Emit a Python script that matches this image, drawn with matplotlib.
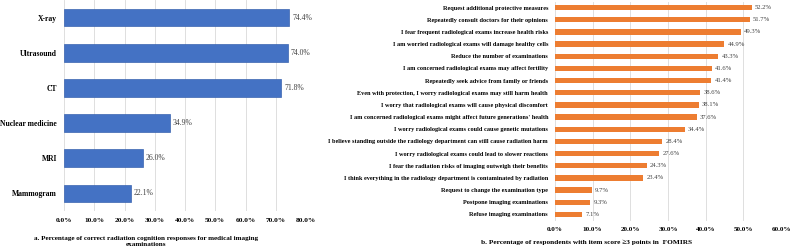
import matplotlib
matplotlib.use('Agg')
import matplotlib.pyplot as plt
import numpy as np

plt.rcParams['font.family'] = ['Liberation Serif', 'DejaVu Serif']

# panel a
exams = ['X-ray', 'Ultrasound', 'CT', 'Nuclear medicine', 'MRI', 'Mammogram']
exam_pct = [74.4, 74.0, 71.8, 34.9, 26.0, 22.1]
a_ticks = [0, 10, 20, 30, 40, 50, 60, 70, 80]

# panel b
items = [
    'Request additional protective measures',
    'Repeatedly consult doctors for their opinions',
    'I fear frequent radiological exams increase health risks',
    'I am worried radiological exams will damage healthy cells',
    'Reduce the number of examinations',
    'I am concerned radiological exams may affect fertility',
    'Repeatedly seek advice from family or friends',
    'Even with protection, I worry radiological exams may still harm health',
    'I worry that radiological exams will cause physical discomfort',
    "I am concerned radiological exams might affect future generations' health",
    'I worry radiological exams could cause genetic mutations',
    'I believe standing outside the radiology department can still cause radiation harm',
    'I worry radiological exams could lead to slower reactions',
    'I fear the radiation risks of imaging outweigh their benefits',
    'I think everything in the radiology department is contaminated by radiation',
    'Request to change the examination type',
    'Postpone imaging examinations',
    'Refuse imaging examinations',
]
item_pct = [52.2, 51.7, 49.3, 44.9, 43.3, 41.6, 41.4, 38.6, 38.1, 37.6,
            34.4, 28.4, 27.6, 24.3, 23.4, 9.7, 9.3, 7.1]
b_ticks = [0, 10, 20, 30, 40, 50, 60]

fig = plt.figure(figsize=(7.9, 2.48), dpi=100)
grid_c = '#d9d9d9'
val_c = '#404040'

ax1 = fig.add_axes([64/790, 1-211/248, (306-64)/790, 211/248])
y1 = np.arange(len(exams))
ax1.barh(y1, exam_pct, height=0.5, color='#4472c4', edgecolor='#3a64b0', linewidth=0.5, zorder=2)
ax1.set_ylim(len(exams)-0.5, -0.5)
ax1.set_xlim(0, 80)
ax1.set_xticks(a_ticks)
ax1.set_xticklabels(['%.1f%%' % t for t in a_ticks], fontsize=5.3, fontweight='bold')
ax1.set_yticks(y1)
ax1.set_yticklabels(exams, fontsize=5.5, fontweight='bold')
ax1.grid(axis='x', color=grid_c, linewidth=0.6, zorder=0)
ax1.tick_params(length=0, pad=5)
for s in ax1.spines.values():
    s.set_visible(False)
for i, v in enumerate(exam_pct):
    ax1.text(v + 1.0, i, '%.1f%%' % v, va='center', ha='left', fontsize=5.5, color=val_c)
fig.text(146/790, 1-241.5/248, 'a. Percentage of correct radiation cognition responses for medical imaging\nexaminations',
         ha='center', va='center', fontsize=5.1, fontweight='bold', linespacing=1.25)

ax2 = fig.add_axes([555/790, 1-220.5/248, (781-555)/790, 219/248])
y2 = np.arange(len(items))
ax2.barh(y2, item_pct, height=0.45, color='#ed7d31', zorder=2)
ax2.set_ylim(len(items)-0.5, -0.5)
ax2.set_xlim(0, 60)
ax2.set_xticks(b_ticks)
ax2.set_xticklabels(['%.1f%%' % t for t in b_ticks], fontsize=5.1, fontweight='bold')
ax2.set_yticks(y2)
ax2.set_yticklabels(items, fontsize=4.5, fontweight='bold')
ax2.grid(axis='x', color=grid_c, linewidth=0.6, zorder=0)
ax2.tick_params(length=0, pad=5)
for s in ax2.spines.values():
    s.set_visible(False)
for i, v in enumerate(item_pct):
    ax2.text(v + 0.9, i, '%.1f%%' % v, va='center', ha='left', fontsize=4.8, color=val_c)
fig.text(587/790, 1-242/248, 'b. Percentage of respondents with item score \u22653 points in  FOMIRS',
         ha='center', va='center', fontsize=5.35, fontweight='bold')

fig.savefig('out.png', dpi=100)
